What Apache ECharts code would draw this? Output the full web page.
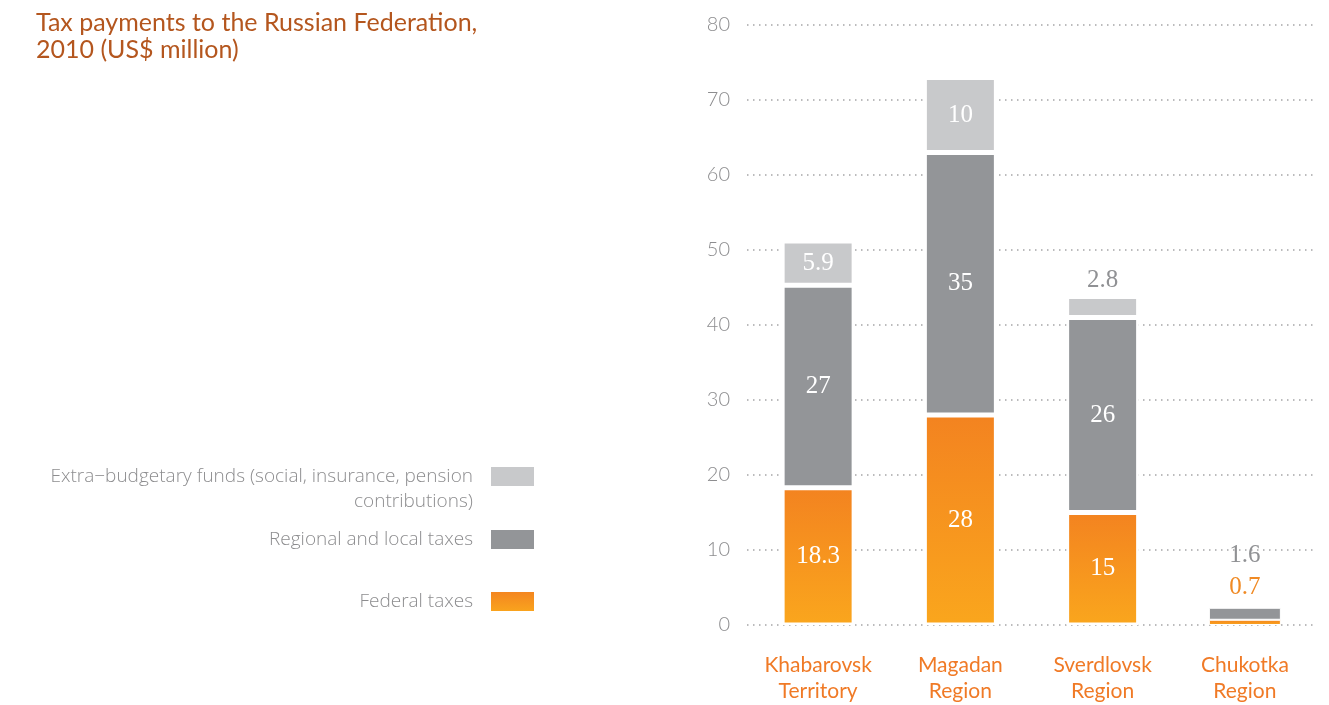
<!DOCTYPE html>
<html>
<head>
<meta charset="utf-8">
<script src="https://cdn.jsdelivr.net/npm/echarts@6/dist/echarts.min.js"></script>
<style>
  html, body { margin: 0; padding: 0; background: #fff; }
  #chart { width: 1329px; height: 705px; }
</style>
</head>
<body>
<div id="chart"></div>
<script>
// data
const regions = ['Khabarovsk\nTerritory', 'Magadan\nRegion', 'Sverdlovsk\nRegion', 'Chukotka\nRegion'];
const federalTaxes = [18.3, 28, 15, 0.7];
const regionalTaxes = [27, 35, 26, 1.6];
const extraFunds = [5.9, 10, 2.8, null];
const yTicks = [0, 80, 10]; // min, max, step

const names = {
    federal: 'Federal taxes',
    regional: 'Regional and local taxes',
    extra: 'Extra\u2212budgetary funds (social, insurance, pension\ncontributions)'
};

const sans = 'Lato, "Open Sans", sans-serif';
const serif = '"Liberation Serif", "DejaVu Serif", serif';
const greyText = '#8d8d8f';
const orange = '#f07a26';

// labels drawn above the bar instead of inside (index -> distance)
const outside = {
    federal: {3: 20},
    regional: {3: 40},
    extra: {2: 4}
};

function buildData(values, key, labelColor) {
    return values.map(function (v, i) {
        if (outside[key][i] === undefined) return v;
        let item = {
            value: v,
            label: {position: 'top', distance: outside[key][i], color: labelColor}
        };
        // thin slivers would vanish under the white separator
        if (v < 2) item.itemStyle = {borderWidth: 1};
        return item;
    });
}

function barSeries(key, values, color, labelColor) {
    return {
        name: names[key],
        type: 'bar',
        stack: 'tax',
        barWidth: 72,
        data: buildData(values, key, labelColor),
        itemStyle: {color: color, borderColor: '#fff', borderWidth: 2.5},
        label: {
            show: true,
            position: 'inside',
            color: '#fff',
            fontFamily: serif,
            fontSize: 25
        }
    };
}

const orangeFill = new echarts.graphic.LinearGradient(0, 0, 0, 1, [
    {offset: 0, color: '#f38320'},
    {offset: 1, color: '#faa61d'}
]);

// legend boxes are stacked by hand so the two-line item lines up with its swatch
function legendBox(name, top, twoLines) {
    return {
        data: [name],
        right: 793,
        top: top,
        padding: 0,
        align: 'right',
        orient: 'vertical',
        icon: 'rect',
        itemWidth: 45,
        itemHeight: 21,
        selectedMode: false,
        formatter: function (n) {
            return twoLines ? '\n' + n : n;
        },
        textStyle: {
            color: greyText,
            fontFamily: '"Open Sans", Lato, sans-serif',
            fontWeight: 300,
            fontSize: 19,
            lineHeight: 25,
            align: 'right',
            padding: [0, 12, 0, 0]
        }
    };
}

const chart = echarts.init(document.getElementById('chart'));
const option = {
    animation: false,
    title: {
        text: 'Tax payments to the Russian Federation,\n2010 (US$ million)',
        left: 31,
        top: 4,
        textStyle: {
            color: '#b4561e',
            fontFamily: sans,
            fontWeight: 'normal',
            fontSize: 25,
            lineHeight: 27
        }
    },
    legend: [
        legendBox(names.extra, 439, true),
        legendBox(names.regional, 527, false),
        legendBox(names.federal, 589, false)
    ],
    grid: {left: 747, right: 13, top: 25, bottom: 80},
    xAxis: {
        type: 'category',
        data: regions,
        axisLine: {show: false},
        axisTick: {show: false},
        axisLabel: {
            color: orange,
            fontFamily: sans,
            fontSize: 21,
            lineHeight: 26,
            margin: 27,
            interval: 0
        }
    },
    yAxis: {
        type: 'value',
        min: yTicks[0],
        max: yTicks[1],
        interval: yTicks[2],
        axisLine: {show: false},
        axisTick: {show: false},
        axisLabel: {
            color: greyText,
            fontFamily: sans,
            fontWeight: 300,
            fontSize: 20,
            margin: 17
        },
        splitLine: {
            lineStyle: {color: '#a5a5a7', width: 1.5, type: [1.5, 4.5]}
        }
    },
    series: [
        barSeries('federal', federalTaxes, orangeFill, '#f08a24'),
        barSeries('regional', regionalTaxes, '#939598', '#909194'),
        barSeries('extra', extraFunds, '#c8c9cb', '#909194')
    ]
};
chart.setOption(option);
</script>
</body>
</html>
